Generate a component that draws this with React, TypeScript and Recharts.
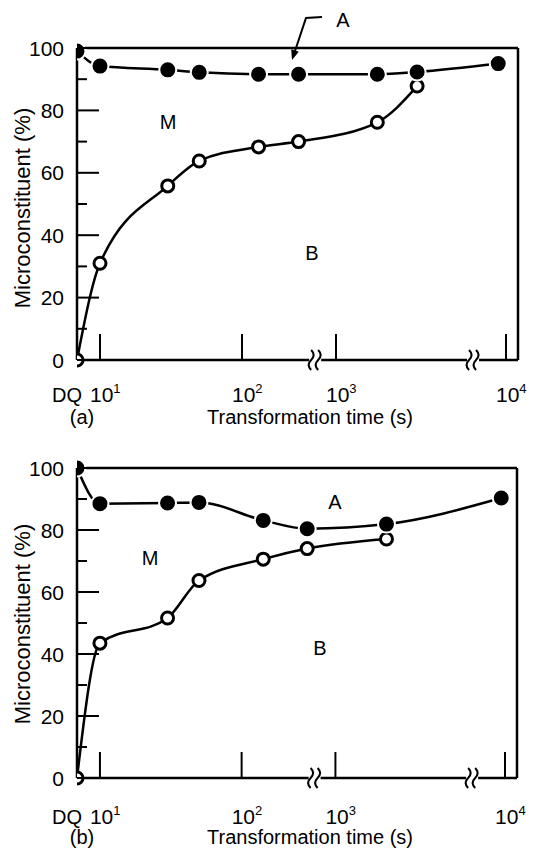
import { LineChart, Line, XAxis, YAxis, ReferenceLine, ReferenceDot } from "recharts";

const FONT = "'Liberation Sans', Arial, Helvetica, sans-serif";

// transformation time in seconds, 0 = DQ (direct quench)
const TIME_A_SOLID = [0, 10, 30, 50, 150, 400, 1750, 3000, 9000];
const PCT_A_SOLID = [99, 94.2, 93, 92.2, 91.6, 91.6, 91.6, 92.3, 95];
const TIME_A_OPEN = [0, 10, 30, 50, 150, 400, 1750, 3000];
const PCT_A_OPEN = [0, 31, 55.8, 63.8, 68.3, 70, 76.2, 87.8];

const TIME_B_SOLID = [0, 10, 30, 50, 170, 500, 2000, 9500];
const PCT_B_SOLID = [100, 88.5, 88.7, 88.9, 83.1, 80.4, 81.9, 90.3];
const TIME_B_OPEN = [0, 10, 30, 50, 170, 500, 2000];
const PCT_B_OPEN = [0, 43.5, 51.6, 63.7, 70.6, 74.0, 77.1];

const X_TICKS = [0, 10, 100, 1000, 10000];
const X_TICK_EXP = ["", "1", "2", "3", "4"];
const Y_TICKS = [0, 10, 20, 30, 40, 50, 60, 70, 80, 90, 100];
const BREAK_TIMES = [600, 6400];

// broken log axis: decade anchors -> axis units (the original's decades are unevenly spaced)
const AXIS_ANCHORS: [number, number][] = [
  [10, 23],
  [100, 165],
  [1000, 259],
  [10000, 429],
];
const U_MAX = 441;

function toU(t: number) {
  if (t <= 0) return 0;
  const lg = Math.log10(t);
  let i = 0;
  while (i < AXIS_ANCHORS.length - 2 && lg > Math.log10(AXIS_ANCHORS[i + 1][0])) i++;
  const [t0, u0] = AXIS_ANCHORS[i];
  const [t1, u1] = AXIS_ANCHORS[i + 1];
  const l0 = Math.log10(t0);
  const l1 = Math.log10(t1);
  return Math.max(0, u0 + ((lg - l0) / (l1 - l0)) * (u1 - u0));
}

const toRows = (times: number[], pcts: number[]) => times.map((t, i) => ({ u: toU(t), pct: pcts[i] }));

function YTick(props: any) {
  const { x, y, payload } = props;
  const v = payload.value;
  const major = v % 20 === 0;
  return (
    <g>
      <line x1={x} x2={x + (major ? 22 : 10)} y1={y} y2={y} stroke="#000" strokeWidth={2} />
      {major && (
        <text x={x - 13} y={y} dy={7.5} textAnchor="end" fontSize={21} fontFamily={FONT} fill="#000">
          {v}
        </text>
      )}
    </g>
  );
}

function makeXTick(labelDy: number) {
  return (props: any) => {
    const { x, y, index } = props;
    if (index === 0) {
      return (
        <text x={x + 5} y={y + labelDy} textAnchor="end" fontSize={20} fontFamily={FONT} fill="#000">
          DQ
        </text>
      );
    }
    return (
      <g>
        <line x1={x} x2={x} y1={y} y2={y - 26} stroke="#000" strokeWidth={2} />
        <text x={x - 10} y={y + labelDy} fontSize={21} fontFamily={FONT} fill="#000">
          10
          <tspan fontSize={13} dy={-9}>
            {X_TICK_EXP[index]}
          </tspan>
        </text>
      </g>
    );
  };
}

function BreakMark(props: any) {
  const { cx, cy } = props;
  return (
    <g>
      <rect x={cx - 6} y={cy - 4} width={12} height={8} fill="#fff" />
      <path
        d={`M${cx - 4},${cy - 10} q5,5 0,10 q-5,5 0,10`}
        fill="none"
        stroke="#000"
        strokeWidth={2}
      />
      <path
        d={`M${cx + 3},${cy - 10} q5,5 0,10 q-5,5 0,10`}
        fill="none"
        stroke="#000"
        strokeWidth={2}
      />
    </g>
  );
}

function Panel(props: {
  solid: { u: number; pct: number }[];
  open: { u: number; pct: number }[];
  height: number;
  top: number;
  bottom: number;
  right: number;
  labelDy: number;
}) {
  const { solid, open, height, top, bottom, right, labelDy } = props;
  return (
    <LineChart width={551} height={height} margin={{ top, right, bottom: 0, left: 0 }}>
      <XAxis
        type="number"
        dataKey="u"
        domain={[0, U_MAX]}
        ticks={X_TICKS.map(toU)}
        interval={0}
        height={bottom}
        tickSize={0}
        tickMargin={0}
        tickLine={false}
        axisLine={{ stroke: "#000", strokeWidth: 2.5 }}
        tick={makeXTick(labelDy)}
        allowDataOverflow
      />
      <YAxis
        type="number"
        domain={[0, 100]}
        ticks={Y_TICKS}
        interval={0}
        width={77}
        tickSize={0}
        tickMargin={0}
        tickLine={false}
        axisLine={{ stroke: "#000", strokeWidth: 2.5 }}
        tick={(p: any) => <YTick {...p} />}
      />
      <ReferenceLine y={100} stroke="#000" strokeWidth={2.5} />
      <ReferenceLine x={U_MAX} stroke="#000" strokeWidth={2.5} />
      {BREAK_TIMES.map((t) => (
        <ReferenceDot key={t} x={toU(t)} y={0} r={0} ifOverflow="visible" shape={(p: any) => <BreakMark {...p} />} />
      ))}
      <Line
        data={open}
        dataKey="pct"
        type="monotone"
        stroke="#000"
        strokeWidth={2.5}
        dot={{ r: 6, fill: "#fff", stroke: "#000", strokeWidth: 3 }}
        isAnimationActive={false}
      />
      <Line
        data={solid}
        dataKey="pct"
        type="monotone"
        stroke="#000"
        strokeWidth={2.5}
        dot={{ r: 8.5, fill: "#000", stroke: "#fff", strokeWidth: 2 }}
        isAnimationActive={false}
      />
    </LineChart>
  );
}

const txt = { fontSize: 20, fontFamily: FONT, fill: "#000" } as const;

export default function App() {
  return (
    <div style={{ position: "absolute", left: 0, top: 0, width: 551, height: 863, background: "#fff" }}>
      <div style={{ position: "absolute", left: 0, top: 0 }}>
        <Panel
          solid={toRows(TIME_A_SOLID, PCT_A_SOLID)}
          open={toRows(TIME_A_OPEN, PCT_A_OPEN)}
          height={431}
          top={48}
          bottom={71}
          right={33}
          labelDy={42}
        />
      </div>
      <div style={{ position: "absolute", left: 0, top: 431 }}>
        <Panel
          solid={toRows(TIME_B_SOLID, PCT_B_SOLID)}
          open={toRows(TIME_B_OPEN, PCT_B_OPEN)}
          height={432}
          top={37}
          bottom={85}
          right={34}
          labelDy={46}
        />
      </div>
      <svg
        width={551}
        height={863}
        style={{ position: "absolute", left: 0, top: 0, pointerEvents: "none" }}
      >
        {/* panel (a) */}
        <text {...txt} fontSize={22} x={22} y={208} textAnchor="middle" transform="rotate(-90 22 208)" dy={8}>
          Microconstituent (%)
        </text>
        <text {...txt} x={82} y={424} textAnchor="middle">(a)</text>
        <text {...txt} x={310} y={424} textAnchor="middle">Transformation time (s)</text>
        <text {...txt} x={343} y={27} textAnchor="middle">A</text>
        <polyline points="322,17 306,18 295,51" fill="none" stroke="#000" strokeWidth={2} />
        <polygon points="292,60 298.8,51.7 291.2,49.3" fill="#000" />
        <text {...txt} x={168} y={129} textAnchor="middle">M</text>
        <text {...txt} x={312} y={260} textAnchor="middle">B</text>
        {/* panel (b) */}
        <text {...txt} fontSize={22} x={22} y={624} textAnchor="middle" transform="rotate(-90 22 624)" dy={8}>
          Microconstituent (%)
        </text>
        <text {...txt} x={82} y={844} textAnchor="middle">(b)</text>
        <text {...txt} x={310} y={844} textAnchor="middle">Transformation time (s)</text>
        <text {...txt} x={335} y={509} textAnchor="middle">A</text>
        <text {...txt} x={150} y={565} textAnchor="middle">M</text>
        <text {...txt} x={320} y={655} textAnchor="middle">B</text>
      </svg>
    </div>
  );
}
